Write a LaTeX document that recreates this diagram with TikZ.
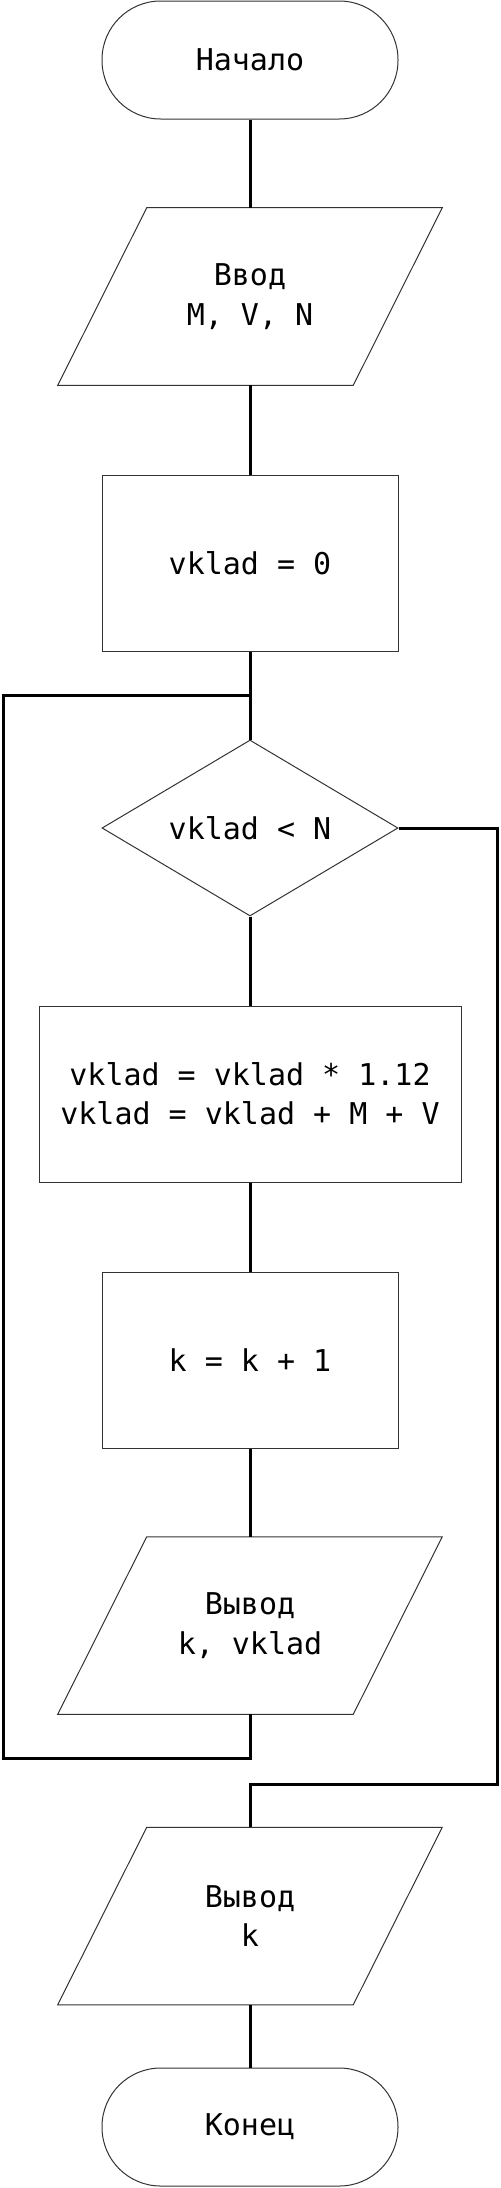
\documentclass[tikz,border=0pt]{standalone}
\usepackage{fontspec}
\usetikzlibrary{shapes.geometric}
\newfontfamily\blockfont{DejaVu Sans Mono}
\tikzset{
  outline/.style={draw=black!80, line width=0.75pt},
  block/.style={inner sep=0pt, align=center,
    font=\blockfont\fontsize{22.5pt}{29.5pt}\selectfont},
  term/.style={block, outline, rectangle, rounded corners=44pt, minimum width=222pt, minimum height=88.5pt},
  io/.style={block, rectangle, minimum width=288pt, minimum height=132.75pt},
  proc/.style={block, outline, rectangle, minimum width=222pt, minimum height=132pt},
  test/.style={block, outline, diamond, aspect=1.68, minimum width=222pt, minimum height=132pt},
  conn/.style={line width=2.25pt}
}
\begin{document}
\begin{tikzpicture}[x=0.75pt,y=-0.75pt]
  \useasboundingbox (0,0) rectangle (500,2188);
  \node[term] (start) at (250,60) {Начало};
  \node[io] (input) at (250,296.5) {Ввод\\M, V, N};
  \node[proc] (init) at (250,563) {vklad = 0};
  \node[test] (check) at (250,828) {vklad < N};
  \node[proc, minimum width=316.5pt] (calc) at (250,1094)
    {vklad = vklad * 1.12\\vklad = vklad + M + V};
  \node[proc] (incr) at (250,1360.5) {k = k + 1};
  \node[io] (outa) at (250,1625.5) {Вывод\\k, vklad};
  \node[io] (outb) at (250,1916) {Вывод\\k};
  \node[term] (stop) at (250,2127) {Конец};

  \foreach \n in {input,outa,outb}
    \draw[outline] ([xshift=66.75pt]\n.north west) -- (\n.north east)
      -- ([xshift=-66.75pt]\n.south east) -- (\n.south west) -- cycle;

  \coordinate (loopbot) at (3,1758);
  \coordinate (looptop) at (250,695);
  \coordinate (exitcorner) at (497,1784);
  \coordinate (exitjoin) at (250,1784);

  \draw[conn] (start) -- (input);
  \draw[conn] (input) -- (init);
  \draw[conn] (init) -- (check);
  \draw[conn] (check) -- (calc);
  \draw[conn] (calc) -- (incr);
  \draw[conn] (incr) -- (outa);
  \draw[conn] (outa.south) |- (loopbot) |- (looptop);
  \draw[conn] (check.east) -| (exitcorner) -- (exitjoin) -- (outb.north);
  \draw[conn] (outb) -- (stop);
\end{tikzpicture}
\end{document}
